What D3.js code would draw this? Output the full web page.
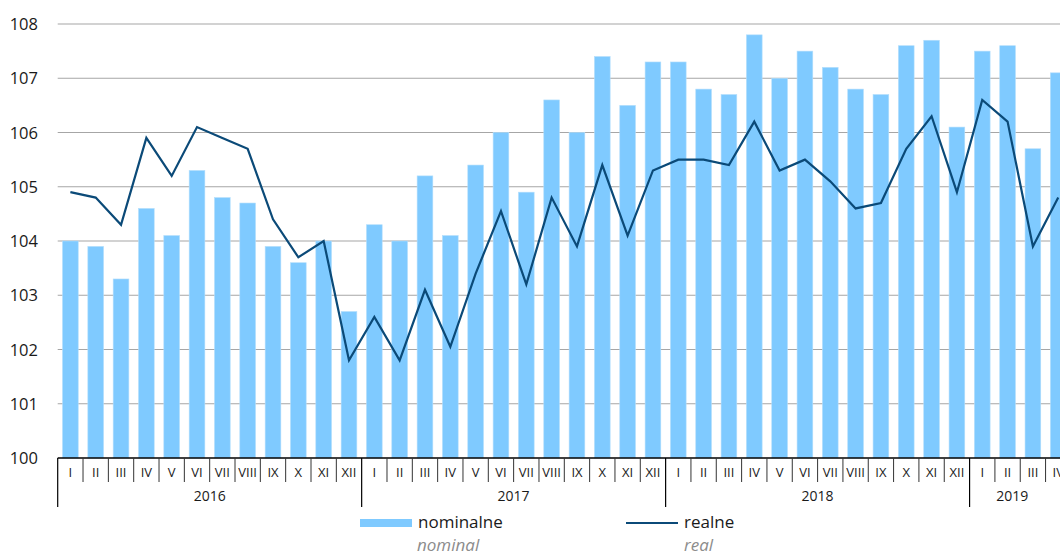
<!DOCTYPE html>
<html><head><meta charset="utf-8">
<script src="https://cdn.jsdelivr.net/npm/d3@7"></script>
<style>
html,body{margin:0;padding:0;background:#fff;overflow:hidden}
text{font-family:"Open Sans","Noto Sans",sans-serif}
</style></head>
<body><svg id="c" width="1060" height="555"></svg>
<script>
const years = ["2016","2017","2018","2019"];
const monthsPerYear = [12,12,12,4];
const monthLabels = ["I","II","III","IV","V","VI","VII","VIII","IX","X","XI","XII"];
const nominal = [104.0,103.9,103.3,104.6,104.1,105.3,104.8,104.7,103.9,103.6,104.0,102.7,
  104.3,104.0,105.2,104.1,105.4,106.0,104.9,106.6,106.0,107.4,106.5,107.3,
  107.3,106.8,106.7,107.8,107.0,107.5,107.2,106.8,106.7,107.6,107.7,106.1,
  107.5,107.6,105.7,107.1];
const real = [104.9,104.8,104.3,105.9,105.2,106.1,105.9,105.7,104.4,103.7,104.0,101.8,
  102.6,101.8,103.1,102.05,103.4,104.55,103.2,104.8,103.9,105.4,104.1,105.3,
  105.5,105.5,105.4,106.2,105.3,105.5,105.1,104.6,104.7,105.7,106.3,104.9,
  106.6,106.2,103.9,104.8];
const yTicks = [100,101,102,103,104,105,106,107,108];
const legendLabels = [["nominalne","nominal"],["realne","real"]];

const cats = [];
years.forEach((y,i)=>{for(let m=0;m<monthsPerYear[i];m++) cats.push(y+"-"+monthLabels[m]);});

const svg = d3.select("#c");
const left = 57.7, bandW = 25.33;
const x = d3.scaleBand().domain(cats).range([left, left + bandW*cats.length]).paddingInner(0.38).paddingOuter(0.19);
const y = d3.scaleLinear().domain([100,108]).range([458,24]);

// gridlines
svg.append("g").selectAll("line").data(yTicks.filter(t=>t>100)).join("line")
  .attr("x1",left).attr("x2",1060).attr("y1",d=>y(d)).attr("y2",d=>y(d))
  .attr("stroke","#a6a6a6").attr("stroke-width",1.2);

// y labels
svg.append("g").selectAll("text").data(yTicks).join("text")
  .attr("x",38).attr("y",d=>y(d)+6).attr("text-anchor","end")
  .attr("font-size",16.5).attr("fill","#1a1a1a").text(d=>d);

// bars
svg.append("g").selectAll("rect").data(nominal).join("rect")
  .attr("x",(d,i)=>x(cats[i])).attr("width",x.bandwidth())
  .attr("y",d=>y(d)).attr("height",d=>y(100)-y(d))
  .attr("fill","#7fcaff").attr("stroke","#b3defc").attr("stroke-width",0.6);

// line
svg.append("path").datum(real)
  .attr("d",d3.line().x((d,i)=>x(cats[i])+x.bandwidth()/2).y(d=>y(d)))
  .attr("fill","none").attr("stroke","#0b4a78").attr("stroke-width",2.2).attr("stroke-linejoin","miter");

// axis
const ax = svg.append("g");
ax.append("line").attr("x1",left).attr("x2",1060).attr("y1",y(100)).attr("y2",y(100)).attr("stroke","#000").attr("stroke-width",1.3);
const step = x.step();
const x0 = x.range()[0];
let idx = 0;
years.forEach((yr,yi)=>{
  const n = monthsPerYear[yi];
  for(let m=0;m<n;m++){
    const bx = x0 + step*(idx+m);
    if(m>0) ax.append("line").attr("x1",bx).attr("x2",bx).attr("y1",458).attr("y2",482).attr("stroke","#333").attr("stroke-width",1);
    ax.append("text").attr("x",bx+step/2).attr("y",477).attr("text-anchor","middle")
      .attr("font-size",13).attr("fill","#1a1a1a").text(monthLabels[m]);
  }
  const sx = x0 + step*idx;
  ax.append("line").attr("x1",sx).attr("x2",sx).attr("y1",458).attr("y2",507).attr("stroke","#000").attr("stroke-width",1.2);
  ax.append("text").attr("x",yi===3 ? sx + step*n/2 - 8 : sx+step*n/2).attr("y",501).attr("text-anchor","middle")
    .attr("font-size",14).attr("fill","#1a1a1a").text(yr);
  idx += n;
});

// legend
const lg = svg.append("g");
lg.append("rect").attr("x",360).attr("y",519).attr("width",52).attr("height",8).attr("fill","#7fcaff");
lg.append("text").attr("x",418).attr("y",528).attr("font-size",17).attr("fill","#1a1a1a").text(legendLabels[0][0]);
lg.append("text").attr("x",417).attr("y",551).attr("font-size",17).attr("font-style","italic").attr("fill","#8c8c8c").text(legendLabels[0][1]);
lg.append("line").attr("x1",626).attr("x2",678).attr("y1",523).attr("y2",523).attr("stroke","#0b4a78").attr("stroke-width",2.2);
lg.append("text").attr("x",684).attr("y",528).attr("font-size",17).attr("fill","#1a1a1a").text(legendLabels[1][0]);
lg.append("text").attr("x",684).attr("y",551).attr("font-size",17).attr("font-style","italic").attr("fill","#8c8c8c").text(legendLabels[1][1]);
</script></body></html>
